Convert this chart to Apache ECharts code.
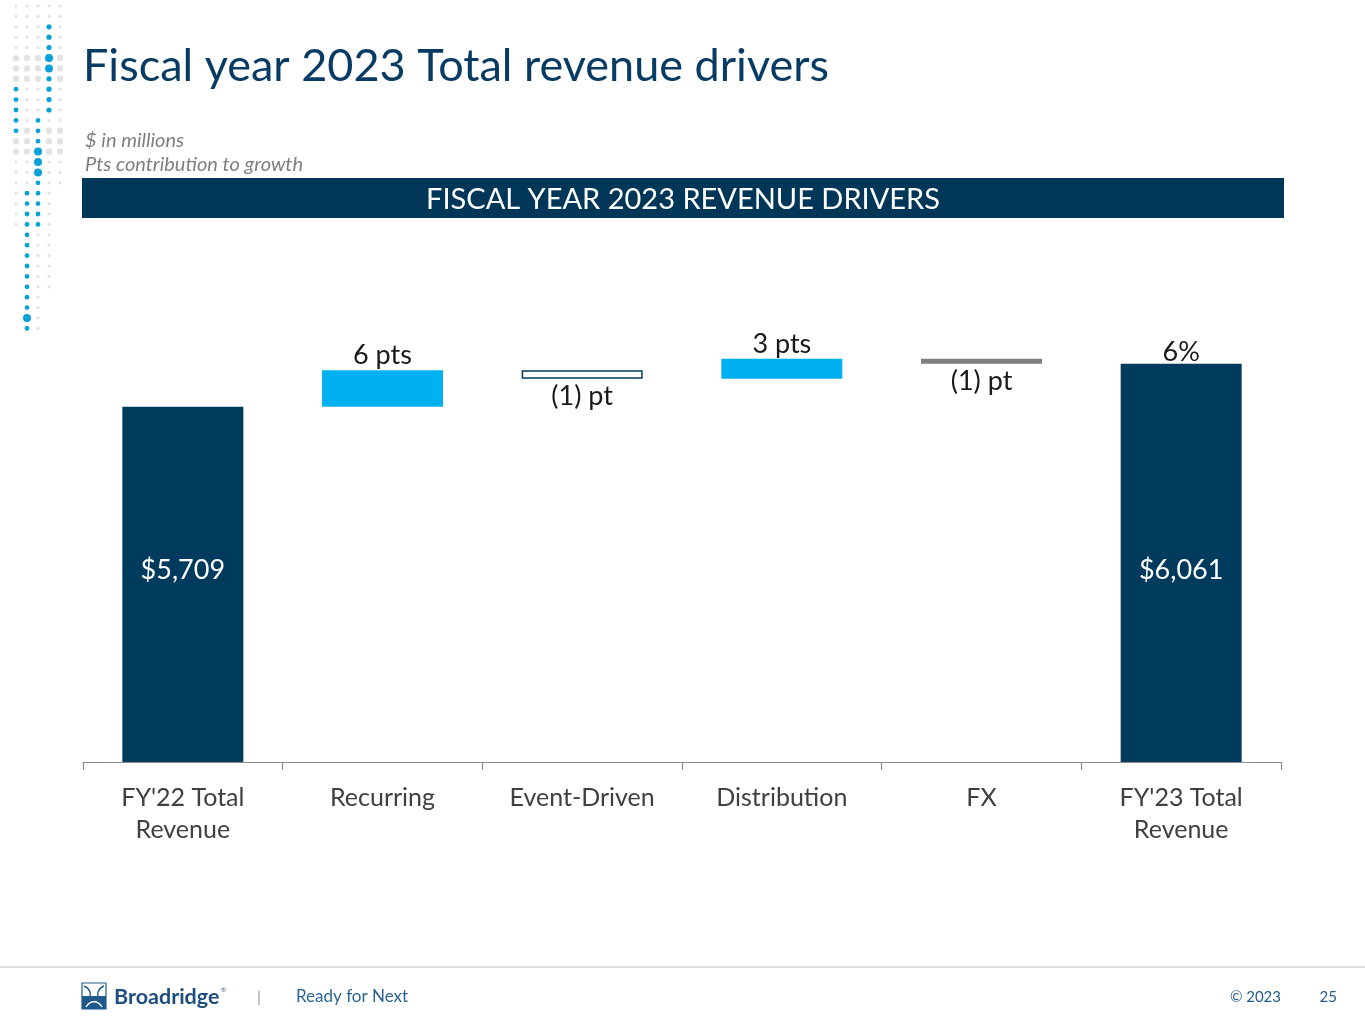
<!DOCTYPE html>
<html><head><meta charset="utf-8">
<script src="https://cdn.jsdelivr.net/npm/echarts@6/dist/echarts.min.js"></script>
<style>html,body{margin:0;padding:0;background:#fff}#c{width:1365px;height:1024px}</style>
</head><body><div id="c"></div>
<script>
// ---- data ----
const categories = ["FY'22 Total\nRevenue", "Recurring", "Event-Driven", "Distribution", "FX", "FY'23 Total\nRevenue"];
const totals = [5709, null, null, null, null, 6061];
const changes = [null, 300, -70, 164, -42, null];
const changeLabels = ["", "6 pts", "(1) pt", "3 pts", "(1) pt", ""];
const totalLabels = ["$5,709", "", "", "", "", "$6,061"];
const growthLabel = "6%";
const axisMin = 2800, axisMax = 6600;

// ---- derived waterfall pieces ----
const NAVY = '#003a5c', CYAN = '#00b0f0', GREY = '#7f7f7f';
const FONT = 'Lato';
let running = 0;
const baseData = [], totalData = [], upData = [], downData = [];
categories.forEach((c, i) => {
  if (totals[i] != null) {
    running = totals[i];
    baseData.push('-'); totalData.push(totals[i]); upData.push('-'); downData.push('-');
  } else {
    const d = changes[i];
    if (d >= 0) {
      baseData.push(running); upData.push(d); downData.push('-');
      running += d;
    } else {
      running += d;
      baseData.push(running); downData.push(-d); upData.push('-');
    }
    totalData.push('-');
  }
});
// decrease styles: Event-Driven hollow, FX grey
const downStyles = {2: {color: '#ffffff', borderColor: NAVY, borderWidth: 1.5}, 4: {color: GREY}};
const downSeriesData = downData.map((v, i) => v === '-' ? '-' : {value: v, itemStyle: downStyles[i] || {color: GREY}});

// ---- decorative dots (top-left) ----
const dots = [];
const cols = [16, 27, 38, 49, 60];
function addDot(x, y, r, col) { dots.push({type: 'circle', silent: true, shape: {cx: x, cy: y, r: r}, style: {fill: col}}); }
const blue = '#0aa0d8', lg = '#e3e3e3';
for (let row = 0; row < 32; row++) {
  const y = 6 + row * 10.4;
  cols.forEach((x, ci) => {
    let isBlue = false, r = 1.6, show = true;
    if (ci === 3 && y >= 24 && y <= 112) { isBlue = true; r = (y > 54 && y < 72) ? 4 : 2.6; }
    else if (ci === 0 && y >= 86 && y <= 132) { isBlue = true; r = 2.4; }
    else if (ci === 2 && y >= 116 && y <= 228) { isBlue = true; r = (y > 146 && y < 176) ? 4 : 2.4; }
    else if (ci === 1 && y >= 190 && y <= 342) { isBlue = true; r = (y > 310 && y < 325) ? 4 : 2.4; }
    if (!isBlue) {
      if (ci === 0 && y > 230) show = false;
      if (ci === 1 && y > 185) show = false;
      if (ci === 2 && y > 330) show = false;
      if (ci === 3 && y > 295) show = false;
      if (ci === 4 && y > 190) show = false;
      r = (y > 50 && y < 80) || (y > 130 && y < 160) ? 3.2 : 1.6;
    }
    if (show) addDot(x, y, r, isBlue ? blue : lg);
  });
}

const chart = echarts.init(document.getElementById('c'), null, {renderer: 'canvas'});
chart.setOption({
  backgroundColor: '#ffffff',
  animation: false,
  textStyle: {fontFamily: FONT},
  grid: {left: 83, right: 84, top: 298, bottom: 262, containLabel: false},
  xAxis: {
    type: 'category', data: categories,
    axisLine: {lineStyle: {color: '#8c8c8c', width: 1.2}},
    axisTick: {show: true, length: 8, interval: 0, lineStyle: {color: '#8c8c8c', width: 1.2}},
    axisLabel: {color: '#404040', fontSize: 25, lineHeight: 32, margin: 20, interval: 0, fontFamily: FONT}
  },
  yAxis: {type: 'value', min: axisMin, max: axisMax, show: false, splitLine: {show: false}},
  series: [
    {type: 'bar', stack: 'w', barWidth: 121, data: baseData, itemStyle: {color: 'transparent'}, silent: true},
    {type: 'bar', stack: 'w', barWidth: 121, data: totalData, itemStyle: {color: NAVY},
      label: {show: true, position: 'insideBottom', distance: 178, color: '#fff', fontSize: 27, fontFamily: FONT,
        formatter: p => totalLabels[p.dataIndex]},
      markPoint: {symbol: 'circle', symbolSize: 1, itemStyle: {color: 'transparent'},
        label: {show: true, position: 'top', distance: 0, offset: [0, 2], color: '#1a1a1a', fontSize: 27, fontFamily: FONT, formatter: growthLabel},
        data: [{coord: [5, totals[5]], value: growthLabel}]}
    },
    {type: 'bar', stack: 'w', barWidth: 121, data: upData, itemStyle: {color: CYAN},
      label: {show: true, position: 'top', distance: 1, color: '#1a1a1a', fontSize: 27, fontFamily: FONT,
        formatter: p => changeLabels[p.dataIndex]}},
    {type: 'bar', stack: 'w', barWidth: 121, data: downSeriesData,
      label: {show: true, position: 'bottom', distance: 4, color: '#1a1a1a', fontSize: 27, fontFamily: FONT,
        formatter: p => changeLabels[p.dataIndex]}}
  ],
  graphic: [
    ...dots,
    {type: 'text', left: 83, top: 44, silent: true,
      style: {text: 'Fiscal year 2023 Total revenue drivers', fill: '#073b63', font: '45px Lato'}},
    {type: 'text', left: 85, top: 131, silent: true,
      style: {text: '$ in millions', fill: '#7f7f7f', font: 'italic 20px Lato'}},
    {type: 'text', left: 85, top: 155, silent: true,
      style: {text: 'Pts contribution to growth', fill: '#7f7f7f', font: 'italic 20px Lato'}},
    {type: 'rect', silent: true, shape: {x: 82, y: 178, width: 1202, height: 40}, style: {fill: '#003657'}},
    {type: 'text', silent: true, x: 683, y: 200,
      style: {text: 'FISCAL YEAR 2023 REVENUE DRIVERS', fill: '#ffffff', font: '29px Lato', align: 'center', verticalAlign: 'middle'}},
    {type: 'line', silent: true, shape: {x1: 0, y1: 967, x2: 1365, y2: 967}, style: {stroke: '#d4d4d4', lineWidth: 1.5}},
    // logo icon
    {type: 'rect', silent: true, shape: {x: 82, y: 983, width: 24, height: 26}, style: {fill: '#ffffff', stroke: '#1e5a8c', lineWidth: 1.2}},
    {type: 'rect', silent: true, shape: {x: 82, y: 996, width: 24, height: 13}, style: {fill: '#1e5a8c'}},
    {type: 'bezierCurve', silent: true, shape: {x1: 84, y1: 986, cpx1: 94, cpy1: 990, cpx2: 90, cpy2: 1000, x2: 86, y2: 1007}, style: {stroke: '#1e5a8c', lineWidth: 1.4, fill: null}},
    {type: 'bezierCurve', silent: true, shape: {x1: 104, y1: 986, cpx1: 94, cpy1: 990, cpx2: 98, cpy2: 1000, x2: 102, y2: 1007}, style: {stroke: '#1e5a8c', lineWidth: 1.4, fill: null}},
    {type: 'bezierCurve', silent: true, shape: {x1: 86, y1: 1007, cpx1: 90, cpy1: 1000, cpx2: 98, cpy2: 1000, x2: 102, y2: 1007}, style: {stroke: '#ffffff', lineWidth: 1.4, fill: null}},
    {type: 'text', silent: true, x: 114, y: 997,
      style: {text: 'Broadridge', fill: '#1e4e7e', font: 'bold 21.5px Lato', verticalAlign: 'middle'}},
    {type: 'text', silent: true, x: 221, y: 990,
      style: {text: '®', fill: '#1e4e7e', font: '6px Lato', verticalAlign: 'middle'}},
    {type: 'text', silent: true, x: 259, y: 997,
      style: {text: '|', fill: '#9a9a9a', font: '16px Lato', align: 'center', verticalAlign: 'middle'}},
    {type: 'text', silent: true, x: 296, y: 997,
      style: {text: 'Ready for Next', fill: '#2c6494', font: '17px Lato', verticalAlign: 'middle'}},
    {type: 'text', silent: true, x: 1281, y: 997,
      style: {text: '© 2023', fill: '#1f5a8c', font: '15px Lato', align: 'right', verticalAlign: 'middle'}},
    {type: 'text', silent: true, x: 1337, y: 997,
      style: {text: '25', fill: '#1f5a8c', font: '15px Lato', align: 'right', verticalAlign: 'middle'}}
  ]
});
</script></body></html>
